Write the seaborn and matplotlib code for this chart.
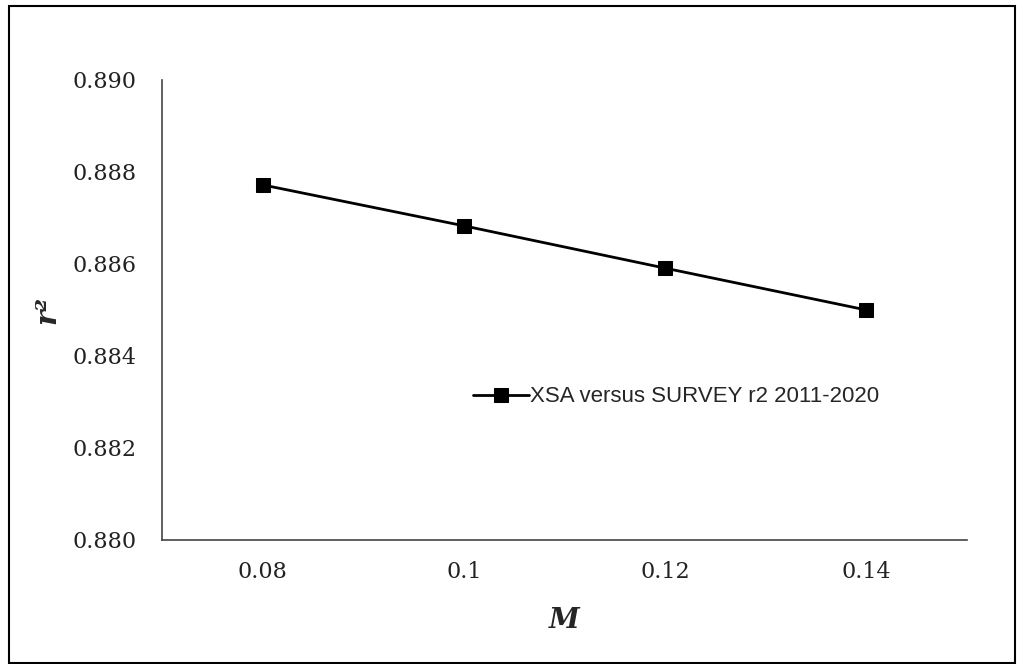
import matplotlib
matplotlib.use("Agg")
import matplotlib.pyplot as plt
import seaborn as sns
import numpy as np
import pandas as pd
from matplotlib.patches import Rectangle

categories = ["0.08", "0.1", "0.12", "0.14"]
r2_values = [0.88772, 0.88683, 0.88591, 0.88500]
series_name = "XSA versus SURVEY r2 2011-2020"
y_ticks = [0.880, 0.882, 0.884, 0.886, 0.888, 0.890]

sns.set_theme(style="white")
plt.rcParams["font.family"] = ["DejaVu Serif"]

df = pd.DataFrame({"pos": np.arange(len(categories)), "r2": r2_values, "series": series_name})

fig = plt.figure(figsize=(10.17, 6.64), dpi=100)
ax = fig.add_axes([162/1017, 1-540/664, 805/1017, 460/664])

sns.lineplot(data=df, x="pos", y="r2", hue="series", palette=["black"], marker="s",
             markersize=10.5, linewidth=2, markeredgecolor="black", ax=ax)

ax.set_xlim(-0.5, len(categories) - 0.5)
ax.set_ylim(y_ticks[0], y_ticks[-1])
ax.set_xticks(np.arange(len(categories)))
ax.set_xticklabels(categories)
ax.set_yticks(y_ticks)
ax.set_yticklabels([f"{v:.3f}" for v in y_ticks])
ax.tick_params(axis="both", length=0, labelsize=16, colors="#222222")
ax.tick_params(axis="y", pad=18)
ax.tick_params(axis="x", pad=15)

for s in ["top", "right"]:
    ax.spines[s].set_visible(False)
for s in ["left", "bottom"]:
    ax.spines[s].set_color("#444444")
    ax.spines[s].set_linewidth(1.2)

ax.set_xlabel("M", fontsize=20, fontweight="bold", fontstyle="italic")
ax.set_ylabel("r²", fontsize=21, fontweight="bold", fontstyle="italic")
ax.xaxis.set_label_coords(0.5, -0.145)
ax.yaxis.set_label_coords(-0.125, 0.5)

leg = ax.legend(loc="center left", bbox_to_anchor=((473-162)/805, (540-397)/460),
                frameon=False, handlelength=2.5, handletextpad=0.05, borderpad=0, borderaxespad=0,
                prop={"family": "Liberation Sans", "size": 16})

fig.patches.append(Rectangle((9/1017, 1/664), 1006/1017, 657/664, transform=fig.transFigure,
                             fill=False, edgecolor="black", linewidth=1.5))

fig.savefig("out.png", dpi=100)
